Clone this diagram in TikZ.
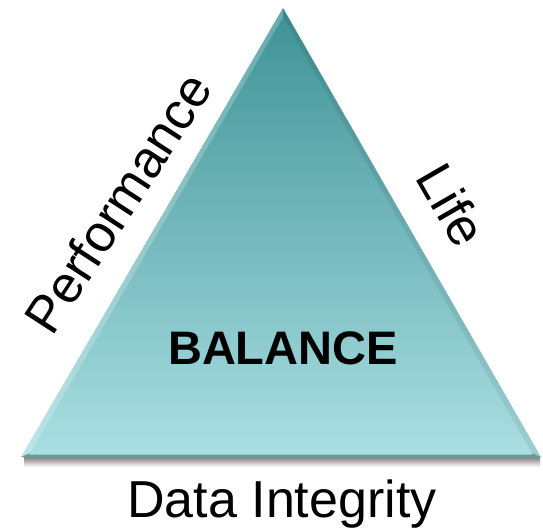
\documentclass[tikz,border=0pt]{standalone}
\usepackage{fontspec}
\setmainfont{Liberation Sans}
\definecolor{tealtop}{RGB}{62,146,150}
\definecolor{tealbot}{RGB}{170,223,226}
\definecolor{tealrim}{RGB}{104,152,154}
\begin{document}
\begin{tikzpicture}[x=1pt,y=1pt]
			\tikzstyle{side}=[font=\fontsize{52}{56}\selectfont, inner sep=0pt]
			\tikzstyle{centre}=[font=\fontsize{47}{50}\selectfont\bfseries, inner sep=0pt]
			\useasboundingbox (0,0) rectangle (543,531);
			% corners of the triangle
			\coordinate (top) at (283,523);
			\coordinate (left) at (21,74);
			\coordinate (right) at (541,74);
			\coordinate (itop) at (283,514);
			\coordinate (ileft) at (30,78);
			\coordinate (iright) at (532,78);
			% soft shadow under the base
			\shade[top color=black!50, bottom color=white] (24,74) rectangle (540,64);
			\shade[top color=tealtop, bottom color=tealbot] (top) -- (right) -- (left) -- cycle;
			% bevel faces
			\fill[white, opacity=0.22] (left) -- (top) -- (itop) -- (ileft) -- cycle;
			\fill[black, opacity=0.07] (right) -- (top) -- (itop) -- (iright) -- cycle;
			\fill[tealrim] (left) -- (right) -- (iright) -- (ileft) -- cycle;
			\fill[tealbot] (ileft) -- (iright) -- (533,76.5) -- (29,76.5) -- cycle;
			% labels
			\node[centre] (balance) at (283,183) {BALANCE};
			\node[side, anchor=base] (integrity) at (282,14) {Data Integrity};
			\node[side, rotate=57] (performance) at (118,328) {Performance};
			\node[side, rotate=-60] (life) at (452,326) {Life};
		\end{tikzpicture}
\end{document}
